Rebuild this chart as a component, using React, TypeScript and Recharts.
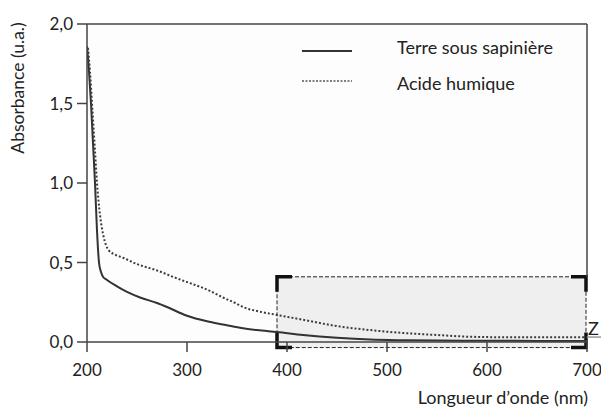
import React from 'react';
import { LineChart, Line, XAxis, YAxis, ReferenceArea, ReferenceLine, CartesianGrid } from 'recharts';

const soilWavelengths = [200, 202, 204, 206, 208, 210, 212, 214, 216, 220, 230, 240, 253, 270, 280, 300, 320, 336, 353, 370, 390, 416, 450, 483, 520, 550, 600, 650, 700];
const soilAbsorbance = [1.86, 1.7, 1.5, 1.25, 1.0, 0.7, 0.5, 0.44, 0.41, 0.39, 0.35, 0.315, 0.28, 0.245, 0.22, 0.165, 0.13, 0.11, 0.09, 0.075, 0.063, 0.044, 0.026, 0.015, 0.011, 0.009, 0.008, 0.007, 0.007];

const humicWavelengths = [201, 203, 205, 208, 210, 213, 216, 219, 222, 228, 236, 250, 270, 290, 303, 320, 336, 350, 356, 370, 390, 416, 450, 483, 520, 550, 583, 620, 660, 700];
const humicAbsorbance = [1.85, 1.7, 1.5, 1.2, 1.0, 0.8, 0.68, 0.61, 0.575, 0.55, 0.53, 0.49, 0.45, 0.4, 0.37, 0.33, 0.28, 0.24, 0.22, 0.195, 0.17, 0.14, 0.1, 0.075, 0.055, 0.044, 0.033, 0.03, 0.03, 0.03];

const xTicks = [200, 300, 400, 500, 600, 700];
const yTicks = [0, 0.5, 1, 1.5, 2];

const seriesNames = ['Terre sous sapinière', 'Acide humique'];
const zoneLabel = 'Z';
const xTitle = 'Longueur d\u2019onde (nm)';
const yTitle = 'Absorbance (u.a.)';

const soilData = soilWavelengths.map((w, i) => ({ w, a: soilAbsorbance[i] }));
const humicData = humicWavelengths.map((w, i) => ({ w, a: humicAbsorbance[i] }));

const FONT = 'Lato, "Open Sans", sans-serif';
const INK = '#222';
const AXIS = '#444';

const ZoneShape = (props: any) => {
  const { x, y, width, height } = props;
  const arm = 15;
  const t = 3.5;
  return (
    <g>
      <rect x={x} y={y} width={width} height={height} fill="#efefef" stroke="#222" strokeWidth={1} strokeDasharray="4 2" />
      <path d={`M${x},${y + arm} L${x},${y} L${x + arm},${y}`} fill="none" stroke="#111" strokeWidth={t} />
      <path d={`M${x + width - arm},${y} L${x + width},${y} L${x + width},${y + arm}`} fill="none" stroke="#111" strokeWidth={t} />
      <path d={`M${x},${y + height - arm} L${x},${y + height} L${x + arm},${y + height}`} fill="none" stroke="#111" strokeWidth={t} />
      <path d={`M${x + width - arm},${y + height} L${x + width},${y + height} L${x + width},${y + height - arm}`} fill="none" stroke="#111" strokeWidth={t} />
    </g>
  );
};

const YTitle = () => (
  <text x={17} y={88} transform="rotate(-90, 17, 88)" textAnchor="middle" dominantBaseline="central" fontFamily={FONT} fontSize={17.5} fill={INK}>
    {yTitle}
  </text>
);

const XTitle = () => (
  <text x={588} y={397} textAnchor="end" dominantBaseline="central" fontFamily={FONT} fontSize={18} fill={INK}>
    {xTitle}
  </text>
);

const LegendOverlay = () => (
  <svg width={270} height={60} style={{ position: 'absolute', left: 300, top: 34, overflow: 'visible' }}>
    <line x1={2} y1={17} x2={52} y2={17} stroke="#333" strokeWidth={2} />
    <text x={97} y={13} dominantBaseline="central" fontFamily={FONT} fontSize={18} fill={INK}>{seriesNames[0]}</text>
    <line x1={2} y1={47} x2={52} y2={47} stroke="#555" strokeWidth={1.5} strokeDasharray="2 1.5" />
    <text x={97} y={49} dominantBaseline="central" fontFamily={FONT} fontSize={18} fill={INK}>{seriesNames[1]}</text>
  </svg>
);

const ZLabel = () => (
  <text x={588} y={328} dominantBaseline="central" fontFamily={FONT} fontSize={18} fill={INK}>{zoneLabel}</text>
);

export default function App() {
  return (
    <div style={{ position: 'absolute', left: 0, top: 0, width: 601, height: 408, background: '#fff' }}>
      <LineChart width={601} height={408} margin={{ top: 24, right: 14, left: 0, bottom: 0 }}>
        <CartesianGrid horizontal={false} vertical={false} fill="#fdfdfd" />
        <XAxis
          type="number"
          dataKey="w"
          domain={[200, 700]}
          ticks={xTicks}
          allowDataOverflow
          height={66}
          tickSize={10}
          tickMargin={12}
          axisLine={{ stroke: AXIS, strokeWidth: 1.5 }}
          tickLine={{ stroke: AXIS, strokeWidth: 1.5 }}
          tick={{ fontFamily: FONT, fontSize: 17, fill: INK }}
          label={<XTitle />}
        />
        <YAxis
          type="number"
          dataKey="a"
          domain={[0, 2]}
          ticks={yTicks}
          width={87}
          tickSize={10}
          tickMargin={4}
          axisLine={{ stroke: AXIS, strokeWidth: 1.5 }}
          tickLine={{ stroke: AXIS, strokeWidth: 1.5 }}
          tick={{ fontFamily: FONT, fontSize: 17, fill: INK }}
          tickFormatter={(v: number) => v.toFixed(1).replace('.', ',')}
          label={<YTitle />}
        />
        <ReferenceLine y={2} stroke={AXIS} strokeWidth={1.5} />
        <ReferenceLine segment={[{ x: 700, y: 2 }, { x: 700, y: 0.41 }]} stroke={AXIS} strokeWidth={1.5} />
        <ReferenceArea x1={390} x2={699} y1={-0.035} y2={0.41} ifOverflow="visible" shape={<ZoneShape />} />
        <ReferenceLine segment={[{ x: 700, y: 0.031 }, { x: 714, y: 0.031 }]} ifOverflow="visible" stroke="#999" strokeWidth={1.5} label={<ZLabel />} />
        <Line data={soilData} dataKey="a" type="monotone" stroke="#333" strokeWidth={2} dot={false} isAnimationActive={false} />
        <Line data={humicData} dataKey="a" type="monotone" stroke="#3c3c3c" strokeWidth={2} strokeDasharray="2 2" dot={false} isAnimationActive={false} />
      </LineChart>
      <LegendOverlay />
    </div>
  );
}
